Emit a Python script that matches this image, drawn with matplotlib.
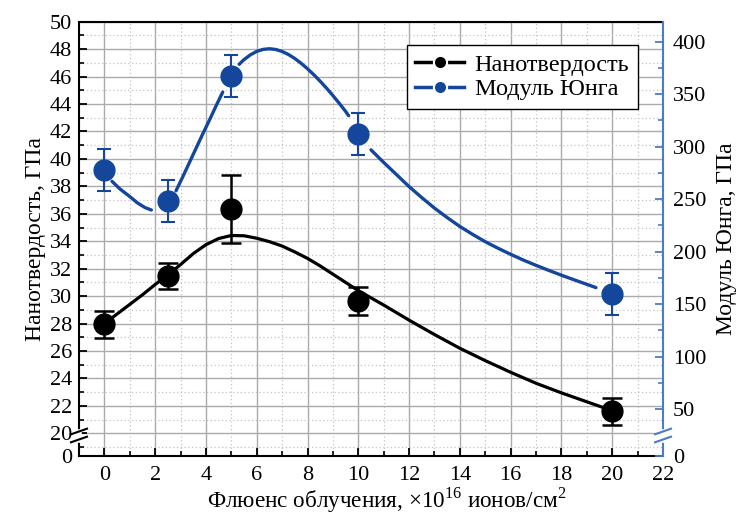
import numpy as np
import matplotlib.pyplot as plt
from matplotlib.lines import Line2D
from matplotlib.ticker import FixedLocator, MultipleLocator

plt.rcParams['font.family'] = ['Liberation Serif', 'DejaVu Serif']
plt.rcParams['mathtext.fontset'] = 'custom'
plt.rcParams['mathtext.rm'] = 'Liberation Serif'
plt.rcParams['font.size'] = 16

# измеренные точки
fluence = [0, 2.5, 5, 10, 20]
hardness = [27.95, 31.5, 36.35, 29.65, 21.6]
hardness_err = [1.0, 0.95, 2.5, 1.0, 1.0]
modulus = [278, 248.5, 367.5, 312.5, 160]
modulus_err = [20, 20, 20, 20, 20]

# сглаживающие кривые
hard_fit_x = [0, 0.5, 1, 1.5, 2, 2.5, 3, 3.5, 4, 4.5, 5, 5.5, 6, 6.5, 7, 7.5, 8,
              8.5, 9, 9.5, 10, 11, 12, 13, 14, 15, 16, 17, 18, 19, 20]
hard_fit_y = [28.0, 28.7, 29.4, 30.1, 30.85, 31.55, 32.3, 33.1, 33.75, 34.2, 34.42,
              34.4, 34.22, 33.97, 33.65, 33.22, 32.75, 32.2, 31.6, 31.0, 30.4, 29.35,
              28.25, 27.2, 26.2, 25.3, 24.45, 23.65, 22.95, 22.3, 21.65]
mod_fit_x = [0.3, 0.6, 1.0, 1.3, 1.6, 1.85, np.nan,
             2.82, 3.1, 3.35, 3.6, 3.87, 4.15, 4.4, 4.66, np.nan,
             5.31, 5.5, 5.75, 6.0, 6.25, 6.5, 6.75, 7.0, 7.25, 7.5, 7.75, 8.0, 8.25,
             8.5, 8.75, 9.0, 9.25, 9.5, 9.62, np.nan,
             10.5, 11, 11.5, 12, 12.5, 13, 13.5, 14, 14.5, 15, 15.5, 16, 16.5, 17,
             17.5, 18, 18.5, 19, 19.36]
mod_fit_y = [267, 260, 252.5, 246.5, 242, 239.7, np.nan,
             258, 272, 285, 298, 312, 326, 339, 352, np.nan,
             378.5, 383, 387.5, 390.8, 392.7, 393.3, 392.6, 390.7, 387.8, 384, 379.4,
             374.2, 368.5, 362.3, 355.7, 348.7, 341.3, 333.6, 329.5, np.nan,
             297, 285, 273.5, 262, 251.5, 241.5, 232.5, 224, 216.5, 209.5, 203.3,
             197.5, 192, 187, 182.2, 177.6, 173.2, 168.9, 165.8]

left_ticks = list(range(20, 51, 2))
right_ticks = list(range(50, 401, 50))

blue = '#14479b'
spine_blue = '#4a7ccc'

fig = plt.figure(figsize=(7.37, 5.17), dpi=100)
ax = fig.add_axes([0.1072, 0.1180, 0.7924, 0.8400])
ax2 = ax.twinx()

# левая ось (нанотвердость), разрыв снизу
ax.plot(hard_fit_x, hard_fit_y, color='black', lw=2.3, zorder=3,
        solid_joinstyle='round', solid_capstyle='round')
ax.errorbar(fluence, hardness, yerr=hardness_err, fmt='o', color='black', ms=15,
            elinewidth=1.8, capsize=7.5, capthick=1.8, zorder=4)

ax.set_xlim(-1, 22)
ax.set_ylim(18.35, 50)
ax.xaxis.set_major_locator(MultipleLocator(2))
ax.xaxis.set_minor_locator(MultipleLocator(1))
ax.yaxis.set_major_locator(FixedLocator([18.35] + left_ticks))
ax.set_yticklabels(['0'] + [str(t) for t in left_ticks])
ax.yaxis.set_minor_locator(FixedLocator(list(range(19, 50, 2))))

ax.grid(which='major', color='#ababab', lw=1.0)
ax.grid(which='minor', color='#c4c4c4', lw=0.9, ls=(0, (1, 2)))
ax.set_axisbelow(True)

ax.tick_params(which='both', direction='in', top=False, right=False)
ax.tick_params(which='major', length=5.5, width=1.3, pad=7)
ax.tick_params(which='minor', length=3.5, width=1.2)
ax.tick_params(axis='y', pad=5)
for s in ['left', 'bottom', 'top']:
    ax.spines[s].set_linewidth(1.5)
ax.spines['right'].set_visible(False)

ax.set_xlabel('Флюенс облучения, ×10$^{16}$ ионов/см$^{2}$', fontsize=16.7)
ax.xaxis.set_label_coords(0.527, -0.068)
ax.set_ylabel('Нанотвердость, ГПа', fontsize=17, labelpad=3)

# правая ось (модуль Юнга)
ax2.plot(mod_fit_x, mod_fit_y, color=blue, lw=2.4, zorder=3,
         solid_joinstyle='round', solid_capstyle='round')
ax2.errorbar(fluence, modulus, yerr=modulus_err, fmt='o', color=blue, ms=15,
             elinewidth=1.5, capsize=4.8, capthick=1.5, zorder=4)
ax2.set_ylim(5.4, 419.05)
ax2.yaxis.set_major_locator(FixedLocator([5.4] + right_ticks))
ax2.set_yticklabels(['0'] + [str(t) for t in right_ticks])
ax2.yaxis.set_minor_locator(FixedLocator(list(range(75, 400, 50))))
ax2.tick_params(which='both', direction='in', colors=spine_blue, labelcolor='black')
ax2.tick_params(which='major', length=6, width=1.3, pad=7)
ax2.tick_params(which='minor', length=3.5, width=1.2)
ax2.spines['right'].set_color(spine_blue)
ax2.spines['right'].set_linewidth(1.5)
for s in ['left', 'top', 'bottom']:
    ax2.spines[s].set_visible(False)
ax2.set_ylabel('Модуль Юнга, ГПа', fontsize=17, labelpad=7)

# знаки разрыва осей (пиксели рисунка)
W, H = 737, 517
def px(x, y):
    return x / W, 1 - y / H

for xs in (79, 663):
    color = 'black' if xs == 79 else spine_blue
    (x0, y0), (x1, y1) = px(xs, 431.5), px(xs, 439.5)
    fig.add_artist(Line2D([x0, x1], [y0, y1], color='white', lw=4, zorder=10))
    for yc in (431.5, 439.5):
        (a0, b0), (a1, b1) = px(xs - 8, yc + 2.8), px(xs + 8, yc - 2.8)
        fig.add_artist(Line2D([a0, a1], [b0, b1], color=color, lw=1.5, zorder=11))

handles = [
    Line2D([0], [0], color='black', lw=2.5, marker='o', ms=9.5, mec='white', mew=1.5),
    Line2D([0], [0], color=blue, lw=2.5, marker='o', ms=9.5, mec='white', mew=1.5),
]
leg = ax2.legend(handles, ['Нанотвердость', 'Модуль Юнга'], loc='upper right',
                 bbox_to_anchor=(0.957, 0.946), borderaxespad=0, fancybox=False,
                 framealpha=1, edgecolor='black', handlelength=2.0, handletextpad=0.45,
                 borderpad=0.35, labelspacing=0.1, fontsize=17.5)
leg.get_frame().set_linewidth(1.0)

fig.savefig('out.png', dpi=100)
